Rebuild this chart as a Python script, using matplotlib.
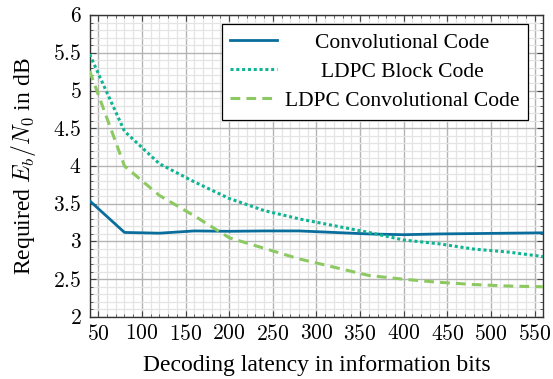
import matplotlib
matplotlib.use("Agg")
import matplotlib.pyplot as plt
from matplotlib.ticker import MultipleLocator, FuncFormatter
from matplotlib.transforms import Bbox

plt.rcParams['font.family'] = ['Liberation Serif', 'DejaVu Serif']
plt.rcParams['mathtext.fontset'] = 'cm'

# latency in information bits
latency = [40, 80, 120, 160, 200, 240, 280, 320, 360, 400, 440, 480, 520, 560]
conv_code = [3.54, 3.12, 3.11, 3.14, 3.135, 3.14, 3.14, 3.12, 3.10, 3.09, 3.10, 3.105, 3.11, 3.115]
ldpc_block = [5.48, 4.46, 4.03, 3.79, 3.57, 3.41, 3.30, 3.21, 3.12, 3.02, 2.97, 2.90, 2.86, 2.80]
ldpc_conv = [5.26, 4.00, 3.61, 3.34, 3.05, 2.91, 2.77, 2.66, 2.55, 2.50, 2.46, 2.43, 2.41, 2.40]
labels = ['Convolutional Code', 'LDPC Block Code', 'LDPC Convolutional Code']

fig = plt.figure(figsize=(5.53, 3.79), dpi=100)
ax = fig.add_axes([0.162, 0.1636, 0.8205, 0.7968])

ax.plot(latency, conv_code, color='#0a6e9c', lw=2.0, label=labels[0], zorder=3)
ax.plot(latency, ldpc_block, color='#10b493', lw=2.2, ls=(0, (1, 0.9)), label=labels[1], zorder=3)
ax.plot(latency, ldpc_conv, color='#8dc963', lw=2.2, ls=(0, (3.2, 2.0)), label=labels[2], zorder=3)

ax.set_xlim(40, 560)
ax.set_ylim(2, 6)
ax.xaxis.set_major_locator(MultipleLocator(50))
ax.xaxis.set_minor_locator(MultipleLocator(10))
ax.yaxis.set_major_locator(MultipleLocator(0.5))
ax.yaxis.set_minor_locator(MultipleLocator(0.1))
ax.xaxis.set_major_formatter(FuncFormatter(lambda v, p: '$%g$' % v))
ax.yaxis.set_major_formatter(FuncFormatter(lambda v, p: '$%g$' % v))

ax.grid(which='major', color='#b4b4b4', lw=1.0)
ax.grid(which='minor', color='#e4e4e4', lw=0.9)
ax.set_axisbelow(True)
ax.tick_params(which='both', direction='in', top=True, right=True, labelsize=15.5, color='#444444')
ax.tick_params(which='major', length=4.5, width=0.8, pad=6)
ax.tick_params(which='minor', length=2.5, width=0.6)
for s in ax.spines.values():
    s.set_color('#333333')
    s.set_linewidth(1.0)

ax.set_xlabel('Decoding latency in information bits', fontsize=17, labelpad=7)
ax.set_ylabel('Required $E_b/N_0$ in dB', fontsize=17, labelpad=11)

leg = ax.legend(loc='upper right', bbox_to_anchor=(0.967, 0.97), fontsize=15.5,
                fancybox=False, framealpha=1, edgecolor='black', handlelength=2.15,
                borderpad=0.4, labelspacing=0.42, handletextpad=0.4, borderaxespad=0)
leg.get_frame().set_linewidth(0.9)

# center the legend labels like the original
r = fig.canvas.get_renderer()
areas = [row.get_children()[1] for col in leg._legend_handle_box.get_children()
         for row in col.get_children()]
W = max(a.get_bbox(r).width for a in areas)
for a in areas:
    a._text.set_ha('center')
    orig = a.get_bbox

    def centered(renderer, orig=orig):
        b = orig(renderer)
        return Bbox.from_bounds(-W / 2, b.y0, W, b.height)
    a.get_bbox = centered

fig.savefig('out.png', dpi=100)
